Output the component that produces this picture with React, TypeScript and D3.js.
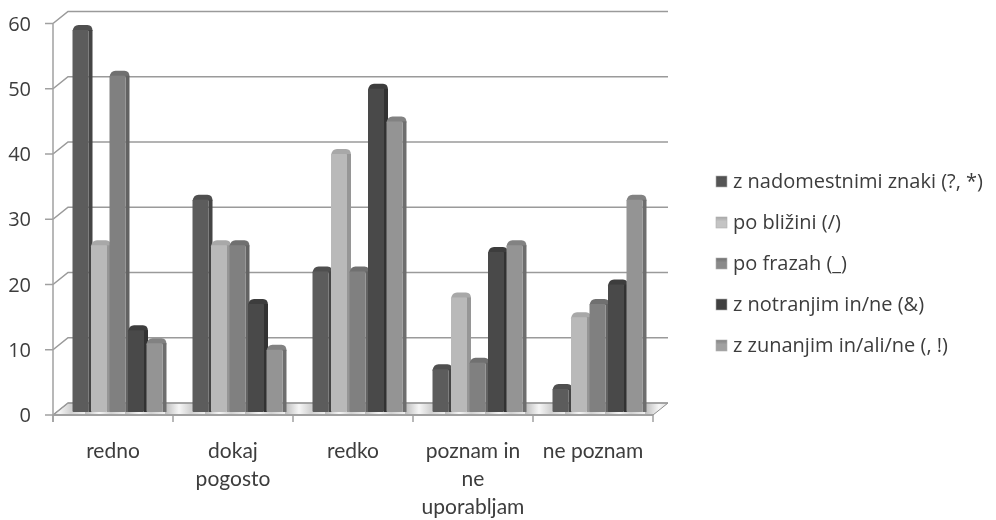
import React from "react";
import * as d3 from "d3";

const categories: string[][] = [["redno"], ["dokaj", "pogosto"], ["redko"], ["poznam in", "ne", "uporabljam"], ["ne poznam"]];
const seriesNames = ["z nadomestnimi znaki (?, *)", "po bližini (/)", "po frazah (_)", "z notranjim in/ne (&)", "z zunanjim in/ali/ne (, !)"];
const s1 = [59, 33, 22, 7, 4];
const s2 = [26, 26, 40, 18, 15];
const s3 = [52, 26, 22, 8, 17];
const s4 = [13, 17, 50, 25, 20];
const s5 = [11, 10, 45, 26, 33];
const allSeries = [s1, s2, s3, s4, s5];
const colors = ["#5c5c5c", "#b9b9b9", "#808080", "#484848", "#949494"];
const sideColors = ["#444444", "#969696", "#646464", "#333333", "#6e6e6e"];
const topColors = ["#505050", "#a8a8a8", "#707070", "#3e3e3e", "#828282"];
const legendColors = ["#555555", "#c4c4c4", "#8a8a8a", "#404040", "#a0a0a0"];
const yTicks = [0, 10, 20, 30, 40, 50, 60];

const W = 996, H = 520;
const x0 = 53, x1 = 653, dx = 15, dy = 12;
const y = d3.scaleLinear().domain([0, 60]).range([415, 23.5]);
const xGroup = d3.scaleBand<number>().domain(d3.range(5)).range([x0, x1]);
const xBar = d3.scaleBand<number>().domain(d3.range(5)).range([19.5, 112]);
const axisColor = "#a0a0a0";
const gridColor = "#9a9a9a";
const textColor = "#3c3c3c";
const legendY = [181, 222, 263, 304, 345];

export default function App() {
  const baseY = 412;
  const bw = 17;
  const side = 3;
  return (
    <svg width={W} height={H} style={{ position: "absolute", left: 0, top: 0, background: "#fff" }}>
      <defs>
        <filter id="soft" x="-5%" y="-5%" width="110%" height="110%"><feGaussianBlur stdDeviation="0.5" /></filter>
        <linearGradient id="floor" gradientUnits="userSpaceOnUse" x1={x0 + 112} x2={x0 + 152} y1="0" y2="0" spreadMethod="repeat">
          <stop offset="0" stopColor="#bcbcbc" />
          <stop offset="0.35" stopColor="#f6f6f6" />
          <stop offset="0.65" stopColor="#d0d0d0" />
          <stop offset="1" stopColor="#f0f0f0" />
        </linearGradient>
        {colors.map((c, i) => (
          <linearGradient key={i} id={`leg${i}`} x1="0" x2="0" y1="0" y2="1">
            <stop offset="0" stopColor={topColors[i]} />
            <stop offset="0.4" stopColor={legendColors[i]} />
            <stop offset="1" stopColor={legendColors[i]} />
          </linearGradient>
        ))}
      </defs>
      <g filter="url(#soft)">
        <polygon points={`${x0},${y(0)} ${x0 + dx},${y(0) - dy} ${x1 + dx},${y(0) - dy} ${x1},${y(0)}`} fill="url(#floor)" stroke="#8c8c8c" strokeWidth={1} />
        {yTicks.map((t) => (
          <g key={t}>
            <polyline points={`${x0},${y(t)} ${x0 + dx},${y(t) - dy} ${x1 + dx},${y(t) - dy}`} fill="none" stroke={gridColor} strokeWidth={1.6} />
            <line x1={x0 - 8} x2={x0} y1={y(t)} y2={y(t)} stroke={axisColor} strokeWidth={1.5} />
          </g>
        ))}
        <line x1={x0} x2={x0} y1={y(60)} y2={y(0) + 7} stroke={axisColor} strokeWidth={1.5} />
        <line x1={x0} x2={x1} y1={y(0)} y2={y(0)} stroke={axisColor} strokeWidth={2} />
        {d3.range(6).map((i) => {
          const px = x0 + i * xGroup.step();
          return <line key={i} x1={px} x2={px} y1={y(0)} y2={y(0) + 7} stroke={axisColor} strokeWidth={1.5} />;
        })}
        {allSeries.map((vals, si) =>
          vals.map((v, ci) => {
            const bx = (xGroup(ci) as number) + (xBar(si) as number);
            const top = y(v);
            const r = bw + side;
            return (
              <g key={`${si}-${ci}`}>
                <path d={`M${bx},${top + 1} Q${bx + 1},${top - 5} ${bx + 6},${top - 5} L${bx + r - 5},${top - 5} Q${bx + r},${top - 5} ${bx + r},${top + 1} Z`} fill={topColors[si]} />
                <rect x={bx + bw - 1} y={top} width={side + 1} height={baseY - top} fill={sideColors[si]} />
                <rect x={bx} y={top} width={bw - 1} height={baseY - top} rx={1} fill={colors[si]} />
              </g>
            );
          })
        )}
        <g fontFamily="'Open Sans', sans-serif" fontSize={20} fill={textColor} textAnchor="end">
          {yTicks.map((t) => (
            <text key={t} x={31} y={y(t) + 7}>{t}</text>
          ))}
        </g>
        <g fontFamily="Lato, sans-serif" fontSize={21} fill={textColor} textAnchor="middle">
          {categories.map((lines, i) =>
            lines.map((l, j) => (
              <text key={j} x={(xGroup(i) as number) + xGroup.bandwidth() / 2} y={458 + j * 28}>{l}</text>
            ))
          )}
        </g>
        <g fontFamily="'Open Sans', sans-serif" fontSize={20} fill={textColor}>
          {seriesNames.map((n, i) => (
            <g key={i}>
              <rect x={716} y={legendY[i] - 5} width={11} height={11} fill={`url(#leg${i})`} stroke="#b0b0b0" strokeWidth={0.6} />
              <text x={733} y={legendY[i] + 7}>{n}</text>
            </g>
          ))}
        </g>
      </g>
    </svg>
  );
}
